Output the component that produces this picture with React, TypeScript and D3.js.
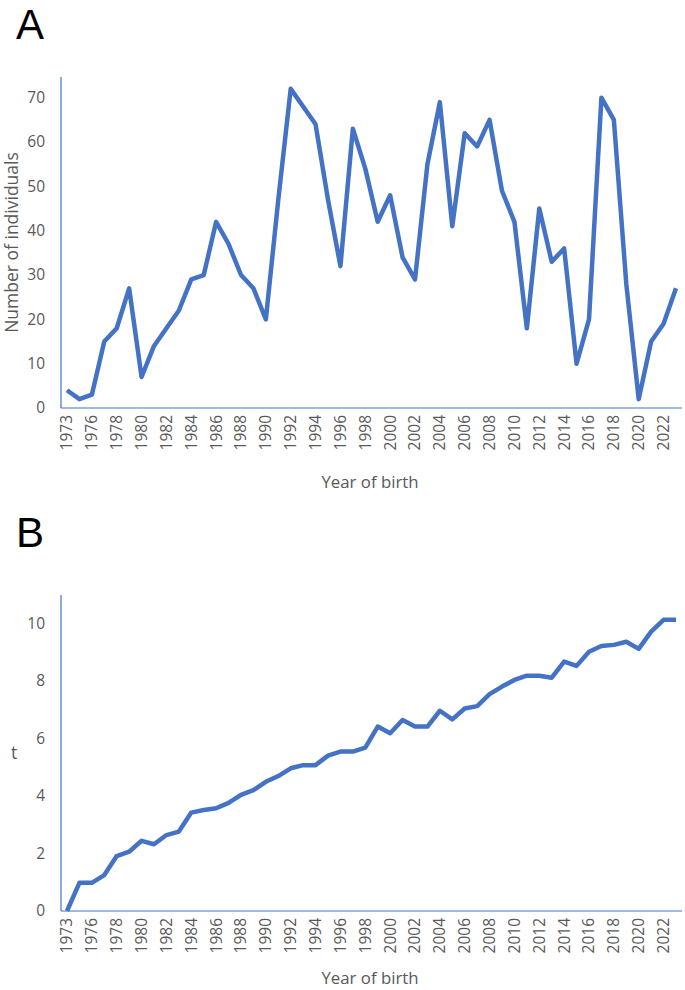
import * as d3 from "d3";

const years = [
  "1973", "1975", "1976", "1977", "1978", "1979", "1980", "1981", "1982", "1983",
  "1984", "1985", "1986", "1987", "1988", "1989", "1990", "1991", "1992", "1993",
  "1994", "1995", "1996", "1997", "1998", "1999", "2000", "2001", "2002", "2003",
  "2004", "2005", "2006", "2007", "2008", "2009", "2010", "2011", "2012", "2013",
  "2014", "2015", "2016", "2017", "2018", "2019", "2020", "2021", "2022", "2023",
];

// panel A: number of individuals per year of birth
const individuals = [
  4, 2, 3, 15, 18, 27, 7, 14, 18, 22,
  29, 30, 42, 37, 30, 27, 20, 47, 72, 68,
  64, 47, 32, 63, 54, 42, 48, 34, 29, 55,
  69, 41, 62, 59, 65, 49, 42, 18, 45, 33,
  36, 10, 20, 70, 65, 28, 2, 15, 19, 27,
];

// panel B: t per year of birth
const tValues = [
  0, 0.98, 0.98, 1.25, 1.91, 2.06, 2.44, 2.32, 2.64, 2.76,
  3.42, 3.51, 3.57, 3.76, 4.04, 4.2, 4.49, 4.69, 4.96, 5.07,
  5.07, 5.4, 5.54, 5.54, 5.68, 6.41, 6.18, 6.64, 6.41, 6.41,
  6.96, 6.66, 7.04, 7.12, 7.54, 7.8, 8.03, 8.18, 8.18, 8.11,
  8.67, 8.52, 9.01, 9.21, 9.25, 9.36, 9.11, 9.71, 10.12, 10.12,
];

const ticksA = [0, 10, 20, 30, 40, 50, 60, 70];
const ticksB = [0, 2, 4, 6, 8, 10];

const blue = "#4472C4";
const grey = "#595959";
const font = "'Open Sans', 'Noto Sans', sans-serif";

interface PanelProps {
  letter: string;
  letterY: number;
  values: number[];
  ticks: number[];
  yTitle: string;
  yTitleX: number;
  yTitleRotate: boolean;
  bottom: number;
  tickTop: number;
  axisTop: number;
  xTitleY: number;
}

function Panel({ letter, letterY, values, ticks, yTitle, yTitleX, yTitleRotate, bottom, tickTop, axisTop, xTitleY }: PanelProps) {
  const x = d3.scalePoint<string>().domain(years).range([67, 676]);
  const y = d3
    .scaleLinear()
    .domain([0, ticks[ticks.length - 1]])
    .range([bottom, tickTop]);
  const line = d3
    .line<number>()
    .x((_, i) => x(years[i])!)
    .y((d) => y(d));
  const left = 61;
  const right = 682;
  const midY = (bottom + axisTop) / 2;

  return (
    <g>
      <text x={16} y={letterY} fontSize={42} fontFamily="'Liberation Sans', Arial, sans-serif" fill="#000">
        {letter}
      </text>
      <line x1={left} x2={left} y1={axisTop} y2={bottom} stroke={blue} strokeWidth={1.2} />
      <line x1={left} x2={right} y1={bottom} y2={bottom} stroke={blue} strokeWidth={1.2} />
      {ticks.map((t) => (
        <text
          key={t}
          x={45}
          y={y(t)}
          dy="0.35em"
          textAnchor="end"
          fontSize={15.5}
          fontFamily={font}
          fill={grey}
        >
          {t}
        </text>
      ))}
      {years.map((yr, i) =>
        i % 2 === 0 ? (
          <text
            key={yr}
            transform={`translate(${x(yr)},${bottom + 7}) rotate(-90)`}
            dy="0.35em"
            textAnchor="end"
            fontSize={15.5}
            fontFamily={font}
            fill={grey}
          >
            {yr}
          </text>
        ) : null
      )}
      <path d={line(values) ?? ""} fill="none" stroke={blue} strokeWidth={4.5} strokeLinejoin="round" />
      <text
        transform={yTitleRotate ? `translate(${yTitleX},${midY}) rotate(-90)` : `translate(${yTitleX},${midY})`}
        dy="0.35em"
        textAnchor="middle"
        fontSize={17.5}
        fontFamily={font}
        fill={grey}
      >
        {yTitle}
      </text>
      <text x={370} y={xTitleY} textAnchor="middle" fontSize={16.8} fontFamily={font} fill={grey}>
        Year of birth
      </text>
    </g>
  );
}

export default function App() {
  return (
    <svg
      width={685}
      height={990}
      style={{ position: "absolute", left: 0, top: 0, background: "#fff" }}
    >
      <Panel
        letter="A"
        letterY={39}
        values={individuals}
        ticks={ticksA}
        yTitle="Number of individuals"
        yTitleX={12}
        yTitleRotate={true}
        bottom={408}
        tickTop={97.7}
        axisTop={77}
        xTitleY={488}
      />
      <Panel
        letter="B"
        letterY={547}
        values={tValues}
        ticks={ticksB}
        yTitle="t"
        yTitleX={14}
        yTitleRotate={false}
        bottom={911}
        tickTop={623.3}
        axisTop={595}
        xTitleY={984}
      />
    </svg>
  );
}
